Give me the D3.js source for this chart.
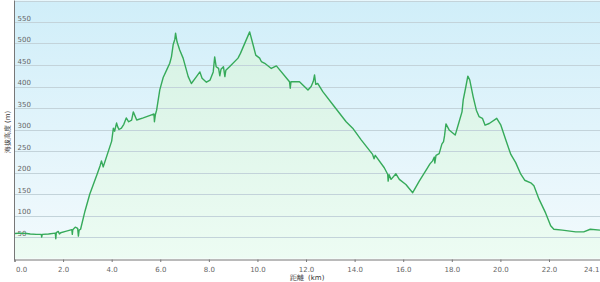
<!DOCTYPE html>
<html>
<head>
<meta charset="utf-8">
<script src="https://cdn.jsdelivr.net/npm/d3@7"></script>
<style>
  body { margin: 0; background: #fff; }
  svg { display: block; font-family: "DejaVu Sans", Verdana, sans-serif; }
</style>
</head>
<body>
<svg id="chart" width="600" height="282"></svg>
<script>
// distance (km) / elevation (m)
var distKm = [0,0.25,0.5,0.65,0.9,1.1,1.12,1.14,1.4,1.68,1.7,1.72,1.8,1.85,1.9,2.1,2.36,2.38,2.4,2.5,2.6,2.63,2.66,2.72,2.9,3.1,3.4,3.52,3.58,3.65,4.0,4.07,4.12,4.2,4.25,4.3,4.4,4.5,4.6,4.7,4.82,4.89,5.03,5.3,5.64,5.74,5.76,5.8,5.85,5.98,6.12,6.26,6.39,6.46,6.53,6.6,6.63,6.69,6.8,6.94,7.15,7.28,7.49,7.63,7.72,7.9,8.05,8.18,8.24,8.3,8.4,8.45,8.5,8.6,8.66,8.7,8.85,9.2,9.3,9.68,9.82,9.93,10.09,10.16,10.3,10.57,10.78,11.32,11.35,11.38,11.73,12.08,12.21,12.3,12.35,12.4,12.48,12.69,13.17,13.65,13.92,14.27,14.74,14.8,14.85,15.22,15.36,15.38,15.42,15.5,15.7,15.84,16.11,16.39,16.66,17.0,17.1,17.21,17.28,17.3,17.35,17.48,17.59,17.66,17.7,17.76,17.89,18.14,18.28,18.42,18.47,18.58,18.66,18.74,18.88,19.01,19.12,19.26,19.37,19.54,19.85,20.02,20.22,20.43,20.63,20.84,21.0,21.25,21.38,21.59,21.86,22.07,22.2,22.55,23.1,23.43,23.7,24.1];
var elevM = [58,59,58,57,56,56,50,56,57,59,46,60,63,57,60,63,67,56,67,73,70,52,66,68,110,150,196,215,227,213,273,303,296,315,306,300,303,312,327,318,322,341,322,327,334,336,318,335,345,392,421,438,454,469,497,510,524,504,485,466,423,407,423,434,419,410,415,434,469,446,442,425,440,446,423,438,446,466,477,527,497,473,466,458,454,442,448,411,396,411,411,392,400,412,427,405,407,388,353,318,303,276,242,232,240,211,196,180,195,184,197,184,172,153,180,211,220,227,236,222,240,244,266,272,285,313,299,287,314,341,369,400,424,415,376,345,330,326,310,314,326,310,276,242,223,196,182,176,169,138,106,76,68,66,62,62,68,66];
var yTicks = [50,100,150,200,250,300,350,400,450,500,550];
var xTicks = [0,2,4,6,8,10,12,14,16,18,20,22,24.1];
var xTitle = "距離  (km)";
var yTitle = "海拔高度 (m)";

var profile = distKm.map((d, i) => ({ km: d, m: elevM[i] }));

var svg = d3.select("#chart");
var margin = { left: 14.5, right: 0, top: 0.5, bottom: 23.5 };
var width = 600, height = 282;

var xScale = d3.scaleLinear()
  .domain([0, 24.1])
  .range([margin.left, width - margin.right]);

var yScale = d3.scaleLinear()
  .domain([0, 600])
  .range([height - margin.bottom, margin.top]);

var defs = svg.append("defs");
var bg = defs.append("linearGradient").attr("id", "bg")
  .attr("x1", 0).attr("y1", 0).attr("x2", 0).attr("y2", 1);
bg.append("stop").attr("offset", "0%").attr("stop-color", "#d0eef9");
bg.append("stop").attr("offset", "100%").attr("stop-color", "#f3fafd");

var fill = defs.append("linearGradient").attr("id", "fill")
  .attr("gradientUnits", "userSpaceOnUse")
  .attr("x1", 0).attr("y1", yScale(530)).attr("x2", 0).attr("y2", yScale(0));
fill.append("stop").attr("offset", "0%").attr("stop-color", "#d6f2e4");
fill.append("stop").attr("offset", "100%").attr("stop-color", "#edfcf3");

svg.append("rect")
  .attr("x", margin.left).attr("y", margin.top)
  .attr("width", width - margin.left - margin.right)
  .attr("height", yScale(0) - margin.top)
  .attr("fill", "url(#bg)");

var area = d3.area()
  .x(d => xScale(d.km))
  .y0(yScale(0))
  .y1(d => yScale(d.m));

var line = d3.line()
  .x(d => xScale(d.km))
  .y(d => yScale(d.m));

svg.append("path")
  .datum(profile)
  .attr("fill", "url(#fill)")
  .attr("d", area);

// grid
svg.append("g")
  .selectAll("line")
  .data(yTicks.concat([600]))
  .join("line")
  .attr("x1", margin.left).attr("x2", width)
  .attr("y1", d => Math.round(yScale(d)) + 0.5)
  .attr("y2", d => Math.round(yScale(d)) + 0.5)
  .attr("stroke", "#c3d3da")
  .attr("stroke-width", 1);

svg.append("g")
  .selectAll("text")
  .data(yTicks)
  .join("text")
  .attr("x", margin.left + 3)
  .attr("y", d => yScale(d) - 1.5)
  .attr("font-size", 7)
  .attr("fill", "#666")
  .text(d => d);

svg.append("path")
  .datum(profile)
  .attr("fill", "none")
  .attr("stroke", "#36aa5a")
  .attr("stroke-width", 1.4)
  .attr("stroke-linejoin", "round")
  .attr("d", line);

// x axis
var xAxis = d3.axisBottom(xScale)
  .tickValues(xTicks)
  .tickSize(2.5)
  .tickFormat(d3.format(".1f"));

var gx = svg.append("g")
  .attr("transform", `translate(0, ${Math.round(yScale(0)) + 0.5})`)
  .call(xAxis)
  .attr("font-family", "")
  .attr("font-size", 7);
gx.select(".domain").attr("stroke", "#777");
gx.selectAll(".tick line").attr("stroke", "#777");
gx.selectAll("text").attr("fill", "#666").attr("dy", "0.95em");
gx.selectAll(".tick").filter(d => d === 0).select("text").attr("text-anchor", "start").attr("dx", 1);
gx.selectAll(".tick").filter(d => d === 24.1).select("text").attr("text-anchor", "end").attr("dx", -1);
gx.selectAll(".tick").filter(d => d === 24.1).select("line").remove();

// y axis line
svg.append("line")
  .attr("x1", margin.left).attr("x2", margin.left)
  .attr("y1", margin.top).attr("y2", yScale(0) + 2)
  .attr("stroke", "#777");

svg.append("text")
  .attr("x", 307).attr("y", 280)
  .attr("text-anchor", "middle")
  .attr("font-size", 7)
  .attr("fill", "#333")
  .style("white-space", "pre")
  .text(xTitle);

svg.append("text")
  .attr("transform", "translate(9.5, 132) rotate(-90)")
  .attr("text-anchor", "middle")
  .attr("font-size", 7)
  .attr("fill", "#333")
  .text(yTitle);
</script>
</body>
</html>
